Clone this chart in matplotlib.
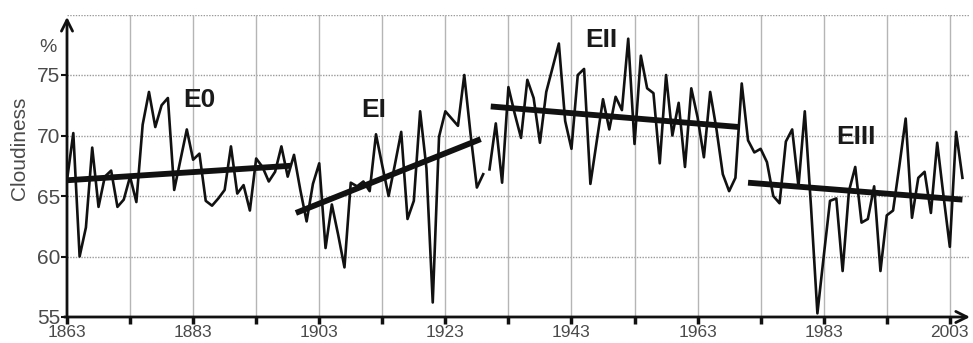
import numpy as np
import matplotlib.pyplot as plt
from matplotlib.ticker import FixedLocator

plt.rcParams['font.family'] = ['Liberation Sans', 'DejaVu Sans']

# annual cloudiness (%), 1863-2005
first_year = 1863
cloudiness = [
    66.3, 70.2, 60.0, 62.4, 69.0, 64.1, 66.6, 67.1, 64.1, 64.7,
    66.6, 64.5, 70.9, 73.6, 70.7, 72.5, 73.1, 65.5, 68.0, 70.5,
    68.0, 68.5, 64.6, 64.2, 64.8, 65.5, 69.1, 65.2, 65.9, 63.8,
    68.1, 67.4, 66.2, 67.0, 69.1, 66.6, 68.4, 65.5, 62.9, 66.0,
    67.7, 60.7, 64.3, 61.8, 59.1, 66.1, 65.8, 66.2, 65.4, 70.1,
    67.5, 65.0, 67.6, 70.3, 63.1, 64.6, 72.0, 67.3, 56.2, 69.9,
    72.0, 71.4, 70.8, 75.0, 70.1, 65.7, 66.8, 67.2, 71.0, 66.1,
    74.0, 71.8, 69.8, 74.6, 73.1, 69.4, 73.6, 75.6, 77.6, 71.2,
    68.9, 75.0, 75.5, 66.0, 69.5, 73.0, 70.5, 73.2, 72.1, 78.0,
    69.3, 76.6, 73.9, 73.5, 67.7, 75.0, 70.0, 72.7, 67.4, 73.9,
    71.5, 68.2, 73.6, 70.5, 66.8, 65.4, 66.5, 74.3, 69.6, 68.6,
    68.9, 67.8, 65.0, 64.4, 69.5, 70.5, 65.8, 72.0, 64.0, 55.3,
    60.0, 64.6, 64.8, 58.8, 65.4, 67.4, 62.8, 63.1, 65.8, 58.8,
    63.4, 63.8, 67.5, 71.4, 63.2, 66.5, 67.0, 63.6, 69.4, 65.0,
    60.8, 70.3, 66.5,
]
break_year = 1930  # the line is interrupted between 1929 and 1930

# epoch trend lines
epochs = ['E0', 'EI', 'EII', 'EIII']
trend_x0 = [1863, 1899.3, 1930.2, 1971.0]
trend_y0 = [66.3, 63.6, 72.4, 66.1]
trend_x1 = [1898.5, 1928.6, 1969.6, 2005.0]
trend_y1 = [67.5, 69.7, 70.7, 64.7]
label_x = [1884.0, 1911.7, 1947.7, 1988.1]
label_y = [72.9, 72.1, 77.9, 69.9]

major_years = [1863, 1883, 1903, 1923, 1943, 1963, 1983, 2003]
minor_years = [1873, 1893, 1913, 1933, 1953, 1973, 1993]
y_ticks = [55, 60, 65, 70, 75]

years = np.arange(first_year, first_year + len(cloudiness))
vals = np.array(cloudiness)
cut = break_year - first_year

fig = plt.figure(figsize=(9.73, 3.43), dpi=100)
ax = fig.add_axes([67 / 973, 26 / 343, 903 / 973, 302.5 / 343])
ax.set_xlim(1863, 2006.2)
ax.set_ylim(55, 80)

ax.xaxis.set_major_locator(FixedLocator(major_years))
ax.xaxis.set_minor_locator(FixedLocator(minor_years))
ax.set_yticks(y_ticks)

# grid
for yv in y_ticks[1:] + [80]:
    ax.axhline(yv, color='#9a9a9a', lw=1.0, ls=(0, (1, 1)), zorder=0)
for xv in major_years[1:] + minor_years:
    ax.axvline(xv, color='#b5b5b5', lw=1.0, zorder=0)

ax.plot(years[:cut], vals[:cut], color='#111111', lw=1.9, zorder=3)
ax.plot(years[cut:], vals[cut:], color='#111111', lw=1.9, zorder=3)

for i in range(len(epochs)):
    ax.plot([trend_x0[i], trend_x1[i]], [trend_y0[i], trend_y1[i]],
            color='#111111', lw=4.2, solid_capstyle='butt', zorder=4)
    ax.text(label_x[i], label_y[i], epochs[i], fontsize=19, fontweight='bold',
            ha='center', va='center', color='#1a1a1a', zorder=5)

for s in ax.spines.values():
    s.set_visible(False)

arrow = dict(arrowstyle='->', lw=2, color='#111111', mutation_scale=20,
             shrinkA=0, shrinkB=0)
ax.annotate('', xy=(0, 0.992), xytext=(0, 0), xycoords='axes fraction',
            arrowprops=arrow, annotation_clip=False)
ax.annotate('', xy=(1.0, 0), xytext=(-0.003, 0), xycoords='axes fraction',
            arrowprops=arrow, annotation_clip=False)

ax.tick_params(axis='x', which='both', direction='out', length=5, width=2.5,
               color='#111111', labelsize=12.5, labelcolor='#4a4a4a', pad=1)
ax.tick_params(axis='y', direction='out', length=4, width=1.5,
               color='#111111', labelsize=15, labelcolor='#4a4a4a', pad=1)

fig.text(20 / 973, 1 - 148 / 343, 'Cloudiness', rotation=90, fontsize=15,
         color='#4a4a4a', ha='center', va='center')
fig.text(48 / 973, 1 - 47 / 343, '%', fontsize=14, color='#4a4a4a',
         ha='center', va='center')

fig.savefig('out.png', dpi=100)
